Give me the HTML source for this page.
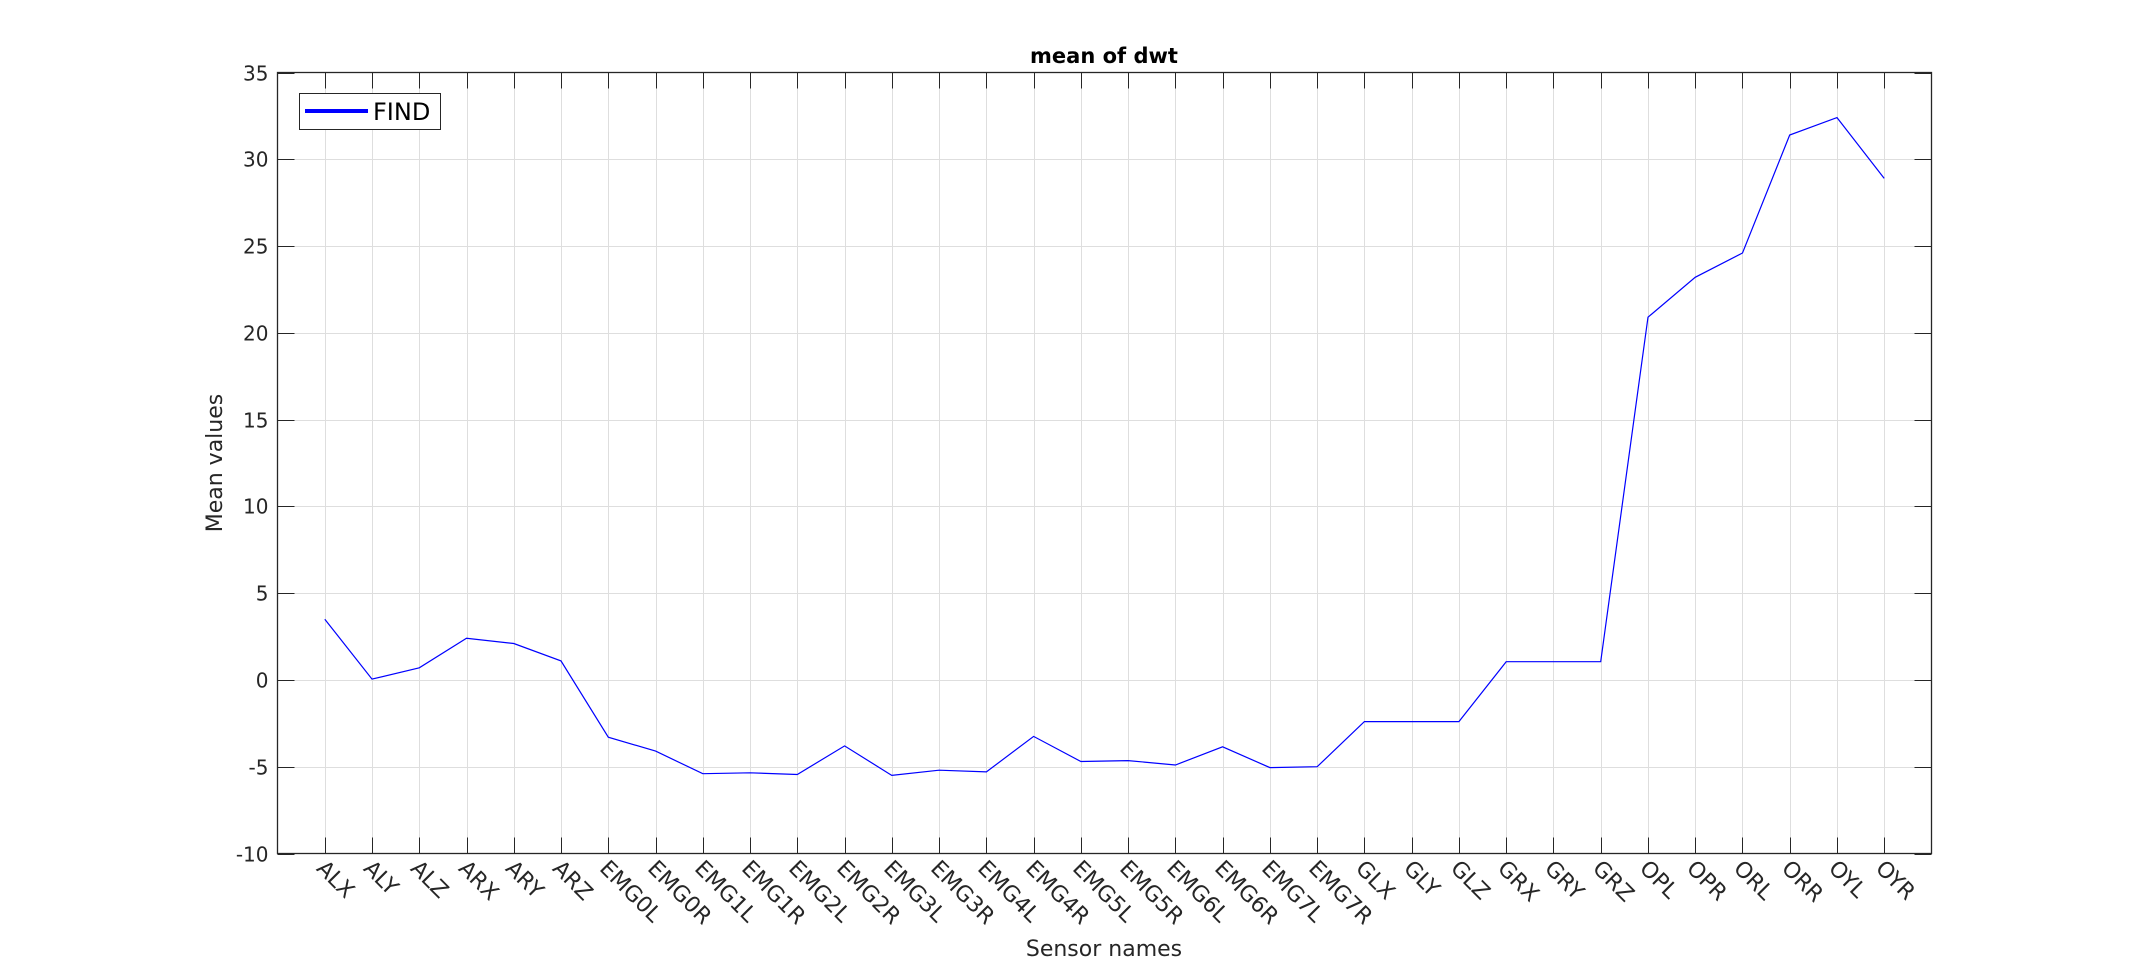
<!DOCTYPE html>
<html><head><meta charset="utf-8"><style>
html,body{margin:0;padding:0;background:#fff;}
svg{display:block;font-family:"DejaVu Sans","Liberation Sans",sans-serif;}
</style></head><body>
<svg id="chart" width="2134" height="962" viewBox="0 0 2134 962" xmlns="http://www.w3.org/2000/svg">
<rect x="0" y="0" width="2134" height="962" fill="#fff"/>
<g id="grid"></g>
<g id="series"></g>
<g id="axes"></g>
<text x="1104" y="63" text-anchor="middle" font-size="21" font-weight="bold" fill="#000">mean of dwt</text>
<text x="1104" y="956" text-anchor="middle" font-size="22" fill="#262626">Sensor names</text>
<text transform="translate(222,463) rotate(-90)" text-anchor="middle" font-size="22" fill="#262626">Mean values</text>
<g>
<rect x="299.5" y="93.5" width="141" height="36" fill="#fff" stroke="#262626" stroke-width="1"/>
<line x1="305" y1="111" x2="368" y2="111" stroke="#0000ff" stroke-width="4"/>
<text x="373" y="120" font-size="24" fill="#000">FIND</text>
</g>
</svg>
<script>
const categories = ["ALX","ALY","ALZ","ARX","ARY","ARZ","EMG0L","EMG0R","EMG1L","EMG1R","EMG2L","EMG2R","EMG3L","EMG3R","EMG4L","EMG4R","EMG5L","EMG5R","EMG6L","EMG6R","EMG7L","EMG7R","GLX","GLY","GLZ","GRX","GRY","GRZ","OPL","OPR","ORL","ORR","OYL","OYR"];
const findValues = [3.5,0.05,0.7,2.4,2.1,1.1,-3.3,-4.1,-5.4,-5.35,-5.45,-3.8,-5.5,-5.2,-5.3,-3.25,-4.7,-4.65,-4.9,-3.85,-5.05,-5.0,-2.4,-2.4,-2.4,1.05,1.05,1.05,20.9,23.2,24.6,31.4,32.4,28.9];
const yTicks = [-10,-5,0,5,10,15,20,25,30,35];

const L=277.5,R=1931.5,T=72.5,B=853.5;
const xMin=0,xMax=categories.length+1,yMin=-10,yMax=35;
function xS(i){return L+(i+1-xMin)/(xMax-xMin)*(R-L);}
function yS(v){return B-(v-yMin)/(yMax-yMin)*(B-T);}
const NS="http://www.w3.org/2000/svg";
function mk(tag,attrs,parent){const e=document.createElementNS(NS,tag);for(const k in attrs)e.setAttribute(k,attrs[k]);parent.appendChild(e);return e;}
const grid=document.getElementById('grid'),axes=document.getElementById('axes'),series=document.getElementById('series');

categories.forEach((c,i)=>{
  const x=Math.round(xS(i))+0.5;
  const g=mk('line',{x1:x,y1:T,x2:x,y2:B,stroke:'#dedede','stroke-width':1},grid);
  
  
  const t1=mk('line',{x1:x,y1:B,x2:x,y2:B-16,stroke:'#262626','stroke-width':1},axes);
  
  
  const t2=mk('line',{x1:x,y1:T,x2:x,y2:T+16,stroke:'#262626','stroke-width':1},axes);
  
  
  const lb=mk('text',{transform:`translate(${x-10},${B+16}) rotate(45)`,'font-size':22,fill:'#262626'},axes);
  lb.textContent=c;
  
  
});
yTicks.forEach(v=>{
  const y=Math.round(yS(v))+0.5;
  if(v!==yMin&&v!==yMax){
    const g=mk('line',{x1:L,y1:y,x2:R,y2:y,stroke:'#dedede','stroke-width':1},grid);
    
    
  }
  const t1=mk('line',{x1:L,y1:y,x2:L+17,y2:y,stroke:'#262626','stroke-width':1},axes);
  
  
  const t2=mk('line',{x1:R,y1:y,x2:R-17,y2:y,stroke:'#262626','stroke-width':1},axes);
  
  
  const lb=mk('text',{x:L-9,y:y+7,'text-anchor':'end','font-size':20,fill:'#262626'},axes);
  lb.textContent=String(v);
  
  
});
const box=mk('rect',{x:L,y:T,width:R-L,height:B-T,fill:'none',stroke:'#262626','stroke-width':1.3},axes);


const pts=findValues.map((v,i)=>xS(i).toFixed(1)+','+yS(v).toFixed(1)).join(' ');
const pl=mk('polyline',{points:pts,fill:'none',stroke:'#0000ff','stroke-width':1.2},series);


</script>
</body></html>
